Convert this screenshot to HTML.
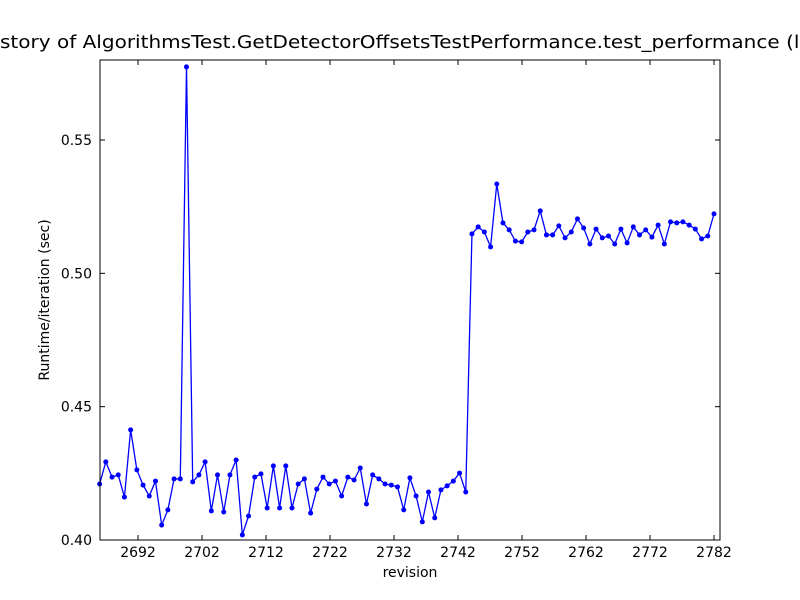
<!DOCTYPE html>
<html><head><meta charset="utf-8"><style>
html,body{margin:0;padding:0;background:#fff;}
svg{display:block;font-family:"DejaVu Sans","Liberation Sans",sans-serif;}
</style></head><body>
<svg id="chart" width="800" height="600" xmlns="http://www.w3.org/2000/svg"></svg>
<script>
const revStart = 2686;
const revEnd = 2782;
const values = [0.421,0.4293,0.4236,0.4244,0.4161,0.4413,0.4263,0.4206,0.4165,0.4221,0.4056,0.4113,0.4229,0.4229,0.5774,0.4218,0.4244,0.4293,0.4109,0.4244,0.4105,0.4244,0.43,0.4019,0.409,0.4236,0.4248,0.412,0.4278,0.412,0.4278,0.412,0.421,0.4229,0.4101,0.4191,0.4236,0.421,0.4221,0.4165,0.4236,0.4225,0.427,0.4135,0.4244,0.4229,0.421,0.4206,0.4199,0.4113,0.4233,0.4165,0.4068,0.418,0.4083,0.4188,0.4203,0.4221,0.4251,0.418,0.5148,0.5174,0.5155,0.5099,0.5335,0.5189,0.5163,0.5121,0.5118,0.5155,0.5163,0.5234,0.5144,0.5144,0.5178,0.5133,0.5155,0.5204,0.517,0.511,0.5166,0.5133,0.514,0.511,0.5166,0.5114,0.5174,0.5144,0.5163,0.5136,0.5181,0.511,0.5193,0.5189,0.5193,0.5181,0.5166,0.5129,0.514,0.5223];
const xTicks = [2692,2702,2712,2722,2732,2742,2752,2762,2772,2782];
const yTicks = [0.40,0.45,0.50,0.55];
const yLabels = ["0.40","0.45","0.50","0.55"];

const svg = document.getElementById('chart');
const NS = 'http://www.w3.org/2000/svg';
const L=100,R=720,T=60,B=540;
const xMin=2686.06,xMax=2782.94,yMin=0.40,yMax=0.58;
const xs = v => L+(v-xMin)/(xMax-xMin)*(R-L);
const ys = v => B-(v-yMin)/(yMax-yMin)*(B-T);
function mk(tag, attrs){const e=document.createElementNS(NS,tag);for(const k in attrs)e.setAttribute(k,attrs[k]);svg.appendChild(e);return e;}

const n = values.length;
const revs = values.map((_, i) => revStart + i*(revEnd-revStart)/(n-1));
const pts = values.map((v,i)=>xs(revs[i]).toFixed(2)+','+ys(v).toFixed(2)).join(' ');
const line = mk('polyline',{points:pts,fill:'none',stroke:'#0000ff','stroke-width':1.3});


values.forEach((v,i)=>{
  const c = mk('circle',{cx:xs(revs[i]),cy:ys(v),r:2.5,fill:'#0000ff'});
  
  
});

const frame = mk('rect',{x:L,y:T,width:R-L,height:B-T,fill:'none',stroke:'#000','stroke-width':1});



xTicks.forEach(t=>{
  const x=xs(t);
  const a = mk('line',{x1:x,y1:B,x2:x,y2:B-5,stroke:'#000'});
  
  
  const b = mk('line',{x1:x,y1:T,x2:x,y2:T+5,stroke:'#000'});
  
  
  const tx = mk('text',{x:x,y:B+17,'text-anchor':'middle','font-size':14});
  tx.textContent = t;
  
  
});
yTicks.forEach((t,i)=>{
  const y=ys(t);
  const a = mk('line',{x1:L,y1:y,x2:L+5,y2:y,stroke:'#000'});
  
  
  const b = mk('line',{x1:R,y1:y,x2:R-5,y2:y,stroke:'#000'});
  
  
  const tx = mk('text',{x:L-8,y:y+5,'text-anchor':'end','font-size':14});
  tx.textContent = yLabels[i];
  
  
});

const xt = mk('text',{x:410,y:577,'text-anchor':'middle','font-size':14});
xt.textContent='revision';


const yt = mk('text',{x:49,y:300,'text-anchor':'middle','font-size':14,transform:'rotate(-90 49 300)'});
yt.textContent='Runtime/iteration (sec)';



const titleStr='History of AlgorithmsTest.GetDetectorOffsetsTestPerformance.test_performance (last 100 revisions)';
const tt = mk('text',{x:0,y:48,'text-anchor':'start','font-size':18});
tt.textContent=titleStr;


try{
  const hi = tt.getSubStringLength(0,2);
  const idx = titleStr.indexOf('(l')+2;
  const toL = tt.getSubStringLength(0,idx);
  const sx = 800/(toL-hi);
  tt.setAttribute('transform','translate('+(-hi*sx)+',0) scale('+sx+',1)');
}catch(e){}
</script>
</body></html>
